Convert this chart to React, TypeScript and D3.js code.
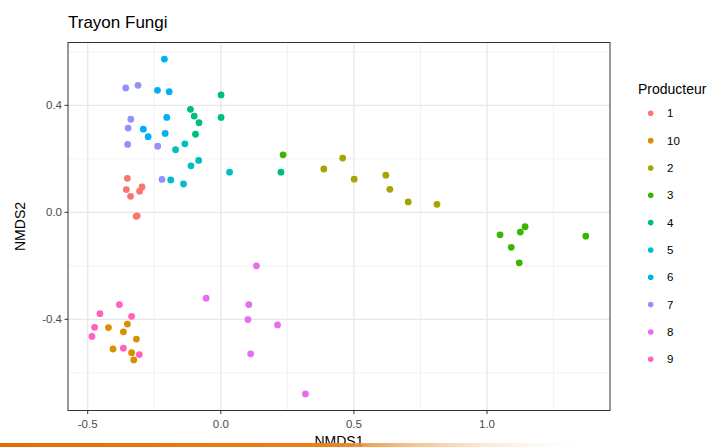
import React from "react";
import * as d3 from "d3";

// NMDS coordinates, one array per producer: [NMDS1, NMDS2]
const prod1 = [[-0.351, 0.127], [-0.355, 0.085], [-0.339, 0.06], [-0.305, 0.079], [-0.296, 0.095], [-0.318, -0.015], [-0.314, -0.013]];
const prod10 = [[-0.422, -0.431], [-0.351, -0.418], [-0.366, -0.447], [-0.317, -0.474], [-0.405, -0.511], [-0.335, -0.525], [-0.327, -0.552]];
const prod2 = [[0.387, 0.162], [0.458, 0.203], [0.501, 0.124], [0.62, 0.139], [0.635, 0.086], [0.704, 0.039], [0.812, 0.03]];
const prod3 = [[1.049, -0.084], [1.125, -0.074], [1.143, -0.054], [1.091, -0.131], [1.121, -0.189], [1.371, -0.089], [0.234, 0.215]];
const prod4 = [[0.001, 0.439], [0.001, 0.355], [-0.114, 0.385], [-0.1, 0.36], [-0.082, 0.335], [-0.095, 0.292], [0.226, 0.15]];
const prod5 = [[-0.17, 0.234], [-0.135, 0.256], [-0.083, 0.194], [-0.112, 0.174], [0.033, 0.15], [-0.188, 0.121], [-0.14, 0.106]];
const prod6 = [[-0.212, 0.573], [-0.238, 0.456], [-0.194, 0.451], [-0.203, 0.355], [-0.291, 0.311], [-0.273, 0.283], [-0.209, 0.295]];
const prod7 = [[-0.357, 0.465], [-0.311, 0.475], [-0.338, 0.348], [-0.348, 0.315], [-0.35, 0.254], [-0.237, 0.247], [-0.221, 0.123]];
const prod8 = [[0.134, -0.2], [-0.055, -0.321], [0.105, -0.345], [0.102, -0.401], [0.213, -0.421], [0.112, -0.529], [0.318, -0.679]];
const prod9 = [[-0.381, -0.345], [-0.454, -0.379], [-0.335, -0.389], [-0.474, -0.43], [-0.484, -0.464], [-0.366, -0.508], [-0.306, -0.532]];

const levels = ["1", "10", "2", "3", "4", "5", "6", "7", "8", "9"];
const groups = [prod1, prod10, prod2, prod3, prod4, prod5, prod6, prod7, prod8, prod9];
const palette = ["#F8766D", "#D89000", "#A3A500", "#39B600", "#00BF7D", "#00BFC4", "#00B0F6", "#9590FF", "#E76BF3", "#FF62BC"];

const xMajor = [-0.5, 0, 0.5, 1];
const xMinor = [-0.25, 0.25, 0.75, 1.25];
const yMajor = [-0.4, 0, 0.4];
const yMinor = [-0.6, -0.2, 0.2, 0.6];

const W = 724;
const H = 447;
const panel = { left: 68, right: 610, top: 42.5, bottom: 410.5 };
const font = "'Liberation Sans', Arial, sans-serif";

export default function App() {
  const x = d3.scaleLinear().domain([-0.574, 1.462]).range([panel.left, panel.right]);
  const y = d3.scaleLinear().domain([-0.741, 0.635]).range([panel.bottom, panel.top]);
  const fmt = d3.formatLocale({ decimal: ".", thousands: ",", grouping: [3], currency: ["", ""], minus: "-" }).format(".1f");
  const color = d3.scaleOrdinal<string, string>().domain(levels).range(palette);

  const pts = groups.flatMap((g, i) => g.map((p) => ({ lvl: levels[i], x: p[0], y: p[1] })));

  return (
    <svg width={W} height={H} style={{ position: "absolute", left: 0, top: 0, background: "#fff" }} fontFamily={font}>
      <defs>
        <linearGradient id="band" x1="0" x2="1" y1="0" y2="0">
          <stop offset="0" stopColor="#E46C0A" />
          <stop offset="0.55" stopColor="#E8821E" />
          <stop offset="1" stopColor="#ffffff" stopOpacity="0" />
        </linearGradient>
      </defs>
      <text x={panel.left} y={28} fontSize={17} fill="#000">Trayon Fungi</text>

      {/* grid */}
      {xMinor.map((v) => (
        <line key={"xm" + v} x1={x(v)} x2={x(v)} y1={panel.top} y2={panel.bottom} stroke="#F0F0F0" strokeWidth={0.9} />
      ))}
      {yMinor.map((v) => (
        <line key={"ym" + v} y1={y(v)} y2={y(v)} x1={panel.left} x2={panel.right} stroke="#F0F0F0" strokeWidth={0.9} />
      ))}
      {xMajor.map((v) => (
        <line key={"xM" + v} x1={x(v)} x2={x(v)} y1={panel.top} y2={panel.bottom} stroke="#E8E8E8" strokeWidth={1.3} />
      ))}
      {yMajor.map((v) => (
        <line key={"yM" + v} y1={y(v)} y2={y(v)} x1={panel.left} x2={panel.right} stroke="#E8E8E8" strokeWidth={1.3} />
      ))}

      {pts.map((p, i) => (
        <circle key={i} cx={x(p.x)} cy={y(p.y)} r={3.4} fill={color(p.lvl)} />
      ))}

      <rect x={panel.left} y={panel.top} width={panel.right - panel.left} height={panel.bottom - panel.top} fill="none" stroke="#333" strokeWidth={1} />

      {/* axes */}
      {xMajor.map((v) => (
        <g key={"xt" + v}>
          <line x1={x(v)} x2={x(v)} y1={panel.bottom} y2={panel.bottom + 3.5} stroke="#333" />
          <text x={x(v)} y={428} textAnchor="middle" fontSize={11.5} fill="#4D4D4D">{fmt(v)}</text>
        </g>
      ))}
      {yMajor.map((v) => (
        <g key={"yt" + v}>
          <line x1={panel.left - 3.5} x2={panel.left} y1={y(v)} y2={y(v)} stroke="#333" />
          <text x={62} y={y(v) + 4} textAnchor="end" fontSize={11.5} fill="#4D4D4D">{fmt(v)}</text>
        </g>
      ))}
      <text x={(panel.left + panel.right) / 2} y={446} textAnchor="middle" fontSize={14} fill="#000">NMDS1</text>
      <text transform={`translate(25,${(panel.top + panel.bottom) / 2}) rotate(-90)`} textAnchor="middle" fontSize={14} fill="#000">NMDS2</text>

      {/* legend */}
      <text x={638} y={94} fontSize={14} fill="#000">Producteur</text>
      {levels.map((l, i) => (
        <g key={"lg" + l} transform={`translate(0,${113.3 + i * 27.33})`}>
          <circle cx={650.7} cy={0} r={2.8} fill={color(l)} />
          <text x={667} y={4} fontSize={11.5} fill="#000">{l}</text>
        </g>
      ))}

      <rect x={0} y={443} width={600} height={4} fill="url(#band)" />
    </svg>
  );
}
